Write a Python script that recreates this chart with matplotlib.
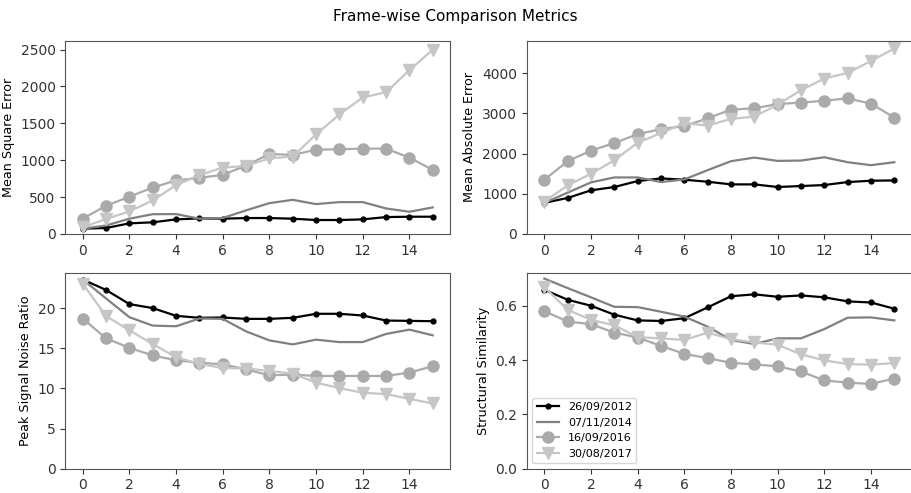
import numpy as np
import matplotlib
matplotlib.use("Agg")
import matplotlib.pyplot as plt

# =============================================================================
# Datos
# =============================================================================
frames = np.arange(16)
fechas = ["26/09/2012", "07/11/2014", "16/09/2016", "30/08/2017"]

mse_2012 = [72, 81, 144, 158, 198, 211, 207, 216, 216, 207, 189, 189, 198, 229, 234, 234]
mse_2014 = [72, 115, 207, 268, 270, 207, 216, 320, 418, 463, 405, 432, 432, 346, 301, 360]
mse_2016 = [207, 383, 504, 630, 725, 761, 801, 927, 1085, 1071, 1143, 1148, 1157, 1157, 1035, 869]
mse_2017 = [90, 203, 306, 455, 662, 797, 900, 922, 1026, 1049, 1350, 1620, 1850, 1922, 2219, 2498]

mae_2012 = [774, 897, 1086, 1169, 1317, 1383, 1350, 1300, 1234, 1234, 1169, 1193, 1218, 1292, 1325, 1333]
mae_2014 = [774, 1029, 1284, 1407, 1407, 1292, 1358, 1588, 1811, 1901, 1819, 1827, 1909, 1786, 1712, 1786]
mae_2016 = [1350, 1811, 2074, 2263, 2485, 2609, 2683, 2880, 3094, 3127, 3234, 3267, 3317, 3374, 3243, 2897]
mae_2017 = [807, 1210, 1498, 1835, 2271, 2510, 2757, 2699, 2864, 2922, 3218, 3580, 3868, 4008, 4304, 4617]

psnr_2012 = [23.56, 22.26, 20.50, 20.00, 19.04, 18.79, 18.83, 18.66, 18.66, 18.79, 19.29, 19.29, 19.08, 18.45, 18.41, 18.37]
psnr_2014 = [23.56, 21.20, 18.87, 17.82, 17.74, 18.70, 18.66, 17.10, 15.98, 15.48, 16.07, 15.77, 15.77, 16.78, 17.32, 16.61]
psnr_2016 = [18.70, 16.23, 15.06, 14.10, 13.51, 13.18, 13.01, 12.38, 11.63, 11.72, 11.55, 11.55, 11.55, 11.55, 11.97, 12.76]
psnr_2017 = [23.05, 19.00, 17.24, 15.52, 13.89, 13.05, 12.55, 12.47, 12.18, 11.84, 10.71, 10.04, 9.46, 9.29, 8.70, 8.12]

ssim_2012 = [0.659, 0.622, 0.600, 0.567, 0.546, 0.544, 0.554, 0.594, 0.635, 0.642, 0.633, 0.638, 0.631, 0.616, 0.612, 0.589]
ssim_2014 = [0.700, 0.665, 0.631, 0.596, 0.595, 0.578, 0.560, 0.523, 0.474, 0.459, 0.480, 0.480, 0.514, 0.556, 0.557, 0.546]
ssim_2016 = [0.580, 0.542, 0.532, 0.501, 0.483, 0.452, 0.423, 0.407, 0.390, 0.384, 0.377, 0.358, 0.325, 0.317, 0.312, 0.332]
ssim_2017 = [0.669, 0.585, 0.548, 0.528, 0.484, 0.480, 0.474, 0.501, 0.477, 0.465, 0.456, 0.421, 0.399, 0.385, 0.383, 0.389]

# estilo de cada serie: color, marcador, tamaño
estilos = [
    dict(color="#000000", marker=".", markersize=7, lw=1.6),
    dict(color="#808080", marker="", markersize=0, lw=1.6),
    dict(color="#aaaaaa", marker="o", markersize=8, lw=1.6),
    dict(color="#c6c6c6", marker="v", markersize=8, lw=1.6),
]

paneles = [
    ("Mean Square Error", [mse_2012, mse_2014, mse_2016, mse_2017]),
    ("Mean Absolute Error", [mae_2012, mae_2014, mae_2016, mae_2017]),
    ("Peak Signal Noise Ratio", [psnr_2012, psnr_2014, psnr_2016, psnr_2017]),
    ("Structural Similarity", [ssim_2012, ssim_2014, ssim_2016, ssim_2017]),
]

# posiciones de los ejes en fracciones de la figura
posiciones = [
    [0.0716, 0.5254, 0.4226, 0.3920],
    [0.5783, 0.5254, 0.4226, 0.3920],
    [0.0716, 0.0493, 0.4226, 0.3963],
    [0.5783, 0.0493, 0.4226, 0.3963],
]

fig = plt.figure(figsize=(9.11, 4.93), dpi=100)
fig.suptitle("Frame-wise Comparison Metrics", fontsize=11, y=0.982)

for (ylabel, series), pos in zip(paneles, posiciones):
    ax = fig.add_axes(pos)
    for valores, fecha, st in zip(series, fechas, estilos):
        ax.plot(frames, valores, label=fecha, **st)
    ax.set_ylim(bottom=0)
    ax.set_xticks(np.arange(0, 16, 2))
    ax.set_ylabel(ylabel, fontsize=9.2)
    ax.tick_params(labelsize=10, colors="#333333")
    for s in ax.spines.values():
        s.set_color("#555555")
    if ylabel == "Structural Similarity":
        ax.legend(loc="lower left", fontsize=8)

plt.savefig("out.png", dpi=100)
